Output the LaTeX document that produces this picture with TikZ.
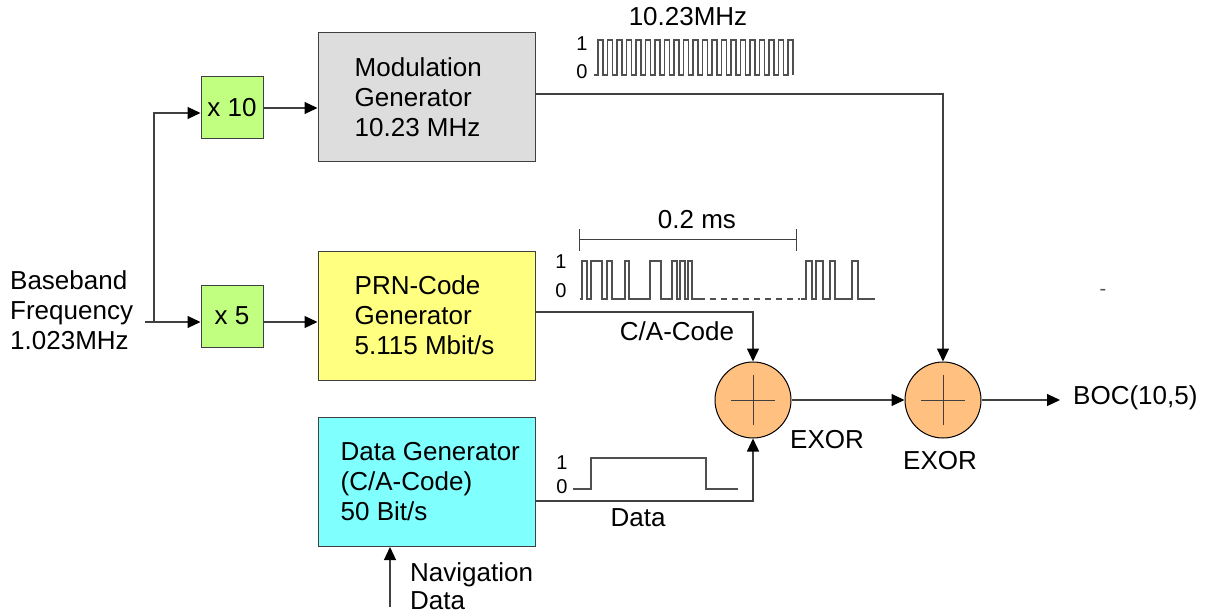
\documentclass[tikz,border=0pt]{standalone}
\usepackage{fontspec}
\setmainfont{Liberation Sans}
\usetikzlibrary{arrows.meta,calc}
\definecolor{boxgray}{HTML}{DDDDDD}
\definecolor{boxgreen}{HTML}{C0FF80}
\definecolor{boxyellow}{HTML}{FFFF80}
\definecolor{boxcyan}{HTML}{80FFFF}
\definecolor{exorfill}{HTML}{FFC080}
\definecolor{linegray}{HTML}{404040}
\definecolor{wavegray}{HTML}{505050}
\tikzset{
 blk/.style={draw=linegray, line width=1pt, inner sep=0pt},
 bigbox/.style={blk, minimum width=217pt, minimum height=129pt},
 mulbox/.style={blk, fill=boxgreen, minimum width=62pt, minimum height=62pt, big},
 big/.style={font=\fontsize{26}{30}\selectfont, inner sep=0pt},
 small/.style={font=\fontsize{20}{22}\selectfont, inner sep=0pt},
 conn/.style={draw=linegray, line width=1.2pt},
 arr/.style={conn, -{Triangle[length=13pt,width=12pt,color=black]}},
 wave/.style={draw=wavegray, line width=1.2pt},
 xor/.style={circle, draw=black, line width=1pt, fill=exorfill, minimum size=76pt, inner sep=0pt},
}
\begin{document}
\begin{tikzpicture}[x=1pt,y=-1pt]
\useasboundingbox (0,0) rectangle (1205,615);

% blocks
\node[mulbox] (x10) at (232,108) {x 10};
\node[mulbox] (x5) at (232,316) {x 5};
\node[bigbox, fill=boxgray] (mod) at (426.5,97.5) {};
\node[bigbox, fill=boxyellow] (prn) at (426.5,315.5) {};
\node[bigbox, fill=boxcyan] (data) at (426.5,482) {};
\node[big, anchor=west, align=left] (modt) at ([xshift=37pt]mod.west) {Modulation\\Generator\\10.23 MHz};
\node[big, anchor=west, align=left] (prnt) at ([xshift=37pt]prn.west) {PRN-Code\\Generator\\5.115 Mbit/s};
\node[big, anchor=west, align=left] (datat) at ([xshift=23pt]data.west) {Data Generator\\(C/A-Code)\\50 Bit/s};

\node[xor] (c1) at (753,400) {};
\node[xor] (c2) at (943,400) {};
\draw[conn, line width=1pt] ($(c1)+(-22,0)$) -- ($(c1)+(22,0)$) ($(c1)+(0,-25)$) -- ($(c1)+(0,25)$);
\draw[conn, line width=1pt] ($(c2)+(-22,0)$) -- ($(c2)+(22,0)$) ($(c2)+(0,-25)$) -- ($(c2)+(0,25)$);
\node[big] (ex1) at (827,440) {EXOR};
\node[big] (ex2) at (940,461) {EXOR};

% texts
\node[big, anchor=west, align=left] (bb) at (10,310) {Baseband\\Frequency\\1.023MHz};
\node[big, anchor=west] (boc) at (1073,398) {BOC(10,5)};
\node[big, anchor=west, align=left, font=\fontsize{26}{28}\selectfont] (nav) at (410,586) {Navigation\\Data};
\node[big] (catext) at (677,331) {C/A-Code};
\node[big] (datatext) at (638,518) {Data};
\node[small, text=wavegray] (dash) at (1103,292) {-};

% connectors
\coordinate (bbstart) at (145,322);
\coordinate (split) at (154,322);
\coordinate (bend) at (154,113);
\coordinate (navstart) at (390,607);
\coordinate (bocend) at (1060,400);
\draw[arr] (bbstart) -- (bbstart -| x5.west);
\draw[arr] (split) -- (bend) -- (bend -| x10.west);
\draw[arr] (x10.east) -- (x10.east -| mod.west);
\draw[arr] (bbstart -| x5.east) -- (bbstart -| prn.west);
\draw[arr] ([yshift=3.5pt]mod.east) -| (c2.north);
\draw[arr] ([yshift=3.5pt]prn.east) -| (c1.north);
\draw[arr] ([yshift=-19pt]data.east) -| (c1.south);
\draw[arr] (c1.east) -- (c2.west);
\draw[arr] (c2.east) -- (bocend);
\draw[arr] (navstart) -- (navstart |- data.south);

% 10.23 MHz waveform
\node[big] (fl) at (688,17) {10.23MHz};
\node[small] (m1) at (582,44) {1};
\node[small] (m0) at (582,72) {0};
\draw[wave] (594,75) -- (598,75)
  \foreach \k in {1,...,20} { -- ++(0,-35) -- ++(5,0) -- ++(0,35) -- ++(4.5,0) }
  -- ++(0,-35) -- ++(5,0) -- ++(0,35);

% PRN waveform
\node[big] (tl) at (697,220) {0.2 ms};
\draw[conn, line width=1pt] (579,239) -- (796,239) (579,229) -- (579,251) (796,229) -- (796,251);
\node[small] (p1) at (561,262) {1};
\node[small] (p0) at (561,291) {0};
\draw[wave] (580,299) -- (582,299) -- (582,261) -- (587,261) -- (587,299)
  -- (591,299) -- (591,261) -- (602,261) -- (602,299)
  -- (607,299) -- (607,261) -- (612,261) -- (612,299)
  -- (625,299) -- (625,261) -- (629,261) -- (629,299)
  -- (650,299) -- (650,261) -- (661,261) -- (661,299)
  -- (672,299) -- (672,261) -- (677,261) -- (677,299)
  -- (680,299) -- (680,261) -- (685,261) -- (685,299)
  -- (688,299) -- (688,261) -- (692,261) -- (692,299) -- (699,299);
\draw[wave, dash pattern=on 6pt off 5pt] (699,299) -- (800,299);
\draw[wave] (801,299) -- (806,299) -- (806,261) -- (812,261) -- (812,299)
  -- (816,299) -- (816,261) -- (823,261) -- (823,299)
  -- (830,299) -- (830,261) -- (835,261) -- (835,299)
  -- (852,299) -- (852,261) -- (858,261) -- (858,299) -- (875,299);

% Data waveform
\node[small] (d1) at (562,463) {1};
\node[small] (d0) at (562,487) {0};
\draw[wave] (573,489) -- (591,489) -- (591,458) -- (706,458) -- (706,489) -- (738,489);
\end{tikzpicture}
\end{document}
